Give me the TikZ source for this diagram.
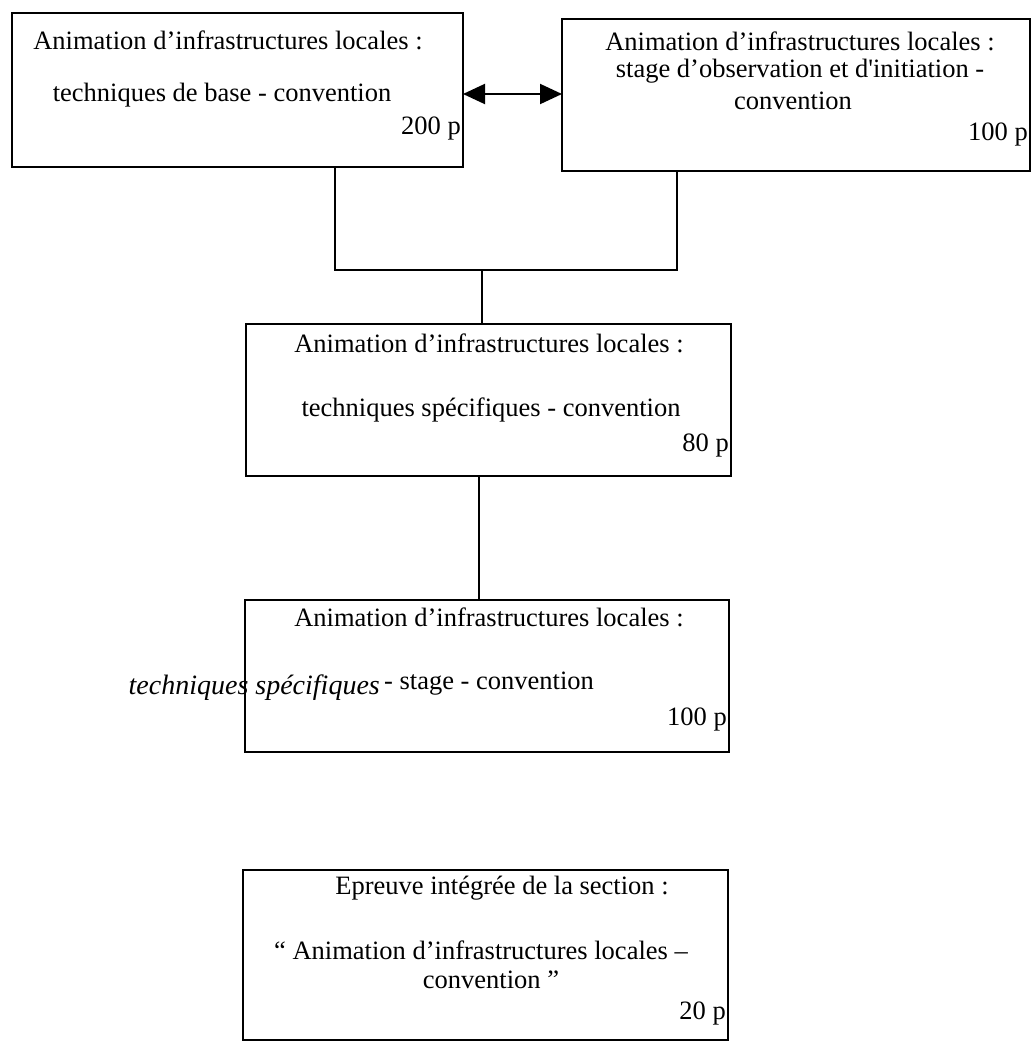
\documentclass[tikz,border=0pt]{standalone}
\usepackage{fontspec}
\setmainfont{Liberation Serif}
\newfontfamily\rawserif{Liberation Serif}
\usetikzlibrary{arrows.meta}
\begin{document}
\begin{tikzpicture}[x=1pt,y=-1pt,
  box/.style={draw, line width=2pt, inner sep=0pt, outer sep=0pt},
  conn/.style={line width=2pt},
  txt/.style={inner sep=0pt, font=\fontsize{26.5}{30}\selectfont},
  hand/.style={inner sep=0pt, font=\fontsize{28}{30}\selectfont\itshape},
  dblarrow/.style={{Triangle[length=22pt,width=20pt]}-{Triangle[length=22pt,width=20pt]}}
]
\useasboundingbox (0,0) rectangle (1032,1044);
% boxes
\node[box, minimum width=451pt, minimum height=154pt] (A) at (237.5,90) {};
\node[box, minimum width=468pt, minimum height=152pt] (B) at (796,95) {};
\node[box, minimum width=485pt, minimum height=152pt] (C) at (488.5,400) {};
\node[box, minimum width=484pt, minimum height=152pt] (D) at (487,676) {};
\node[box, minimum width=485pt, minimum height=170pt] (E) at (485.5,955) {};
% box A texts
\node[txt] (a1) at (228,40) {Animation d’infrastructures locales :};
\node[txt] (a2) at (222,95) {techniques de base - convention};
\node[txt, anchor=east] (a3) at (461,129) {200 p};
% box B texts
\node[txt] (b1) at (800,41) {Animation d’infrastructures locales :};
\node[txt] (b2) at (800,71) {stage d’observation et d{\rawserif '}initiation -};
\node[txt] (b3) at (793,101) {convention};
\node[txt, anchor=east] (b4) at (1028,135) {100 p};
% box C texts
\node[txt] (c1) at (489,343) {Animation d’infrastructures locales :};
\node[txt] (c2) at (491,410) {techniques spécifiques - convention};
\node[txt, anchor=east] (c3) at (729,446) {80 p};
% box D texts
\node[txt] (d1) at (489,617) {Animation d’infrastructures locales :};
\node[hand, anchor=east] (hw) at (380,688) {techniques spécifiques};
\node[txt, anchor=west] (d2) at (384,684) {- stage - convention};
\node[txt, anchor=east] (d3) at (727,719) {100 p};
% box E texts
\node[txt] (e1) at (502,888) {Epreuve intégrée de la section :};
\node[txt] (e2) at (481,950) {“ Animation d’infrastructures locales –};
\node[txt] (e3) at (491,980) {convention ”};
\node[txt, anchor=east] (e4) at (726,1013) {20 p};
% connectors
\coordinate (ay) at (0,94);
\draw[conn, dblarrow] (ay -| A.east) -- (ay -| B.west);
\coordinate (lv) at (335,270);
\coordinate (rv) at (677,270);
\coordinate (mv) at (482,270);
\draw[conn] (A.south -| lv) -- (lv) -- (rv) -- (B.south -| rv);
\draw[conn] (mv) -- (C.north -| mv);
\coordinate (cd) at (479,0);
\draw[conn] (C.south -| cd) -- (D.north -| cd);
\end{tikzpicture}
\end{document}
